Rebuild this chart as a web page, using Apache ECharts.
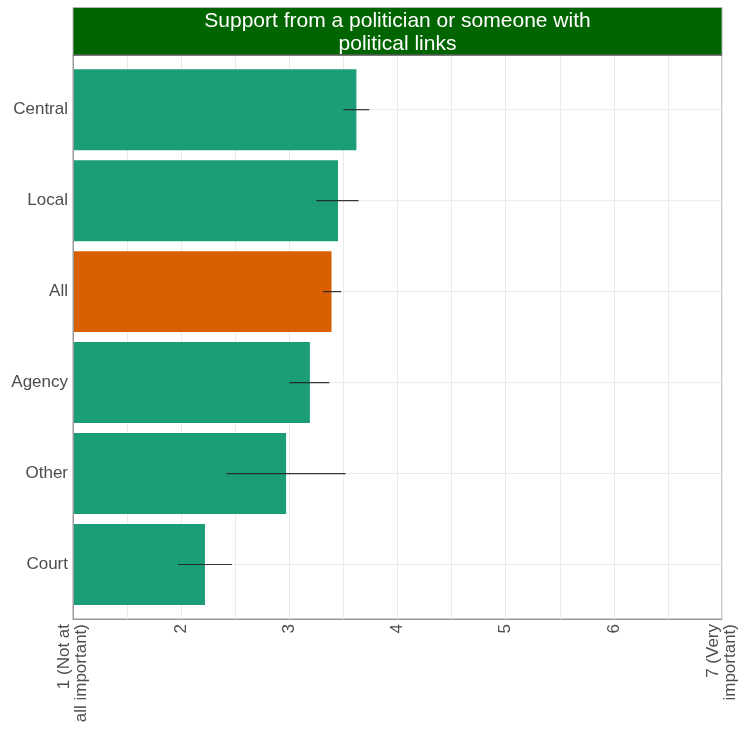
<!DOCTYPE html>
<html>
<head>
<meta charset="utf-8">
<script src="https://cdn.jsdelivr.net/npm/echarts@6/dist/echarts.min.js"></script>
<style>html,body{margin:0;padding:0;background:#fff}#c{width:746px;height:729px}</style>
</head>
<body>
<div id="c"></div>
<script>
const titleText = 'Support from a politician or someone with\npolitical links';
const categories = ['Central', 'Local', 'All', 'Agency', 'Other', 'Court'];
const means = [3.62, 3.45, 3.39, 3.19, 2.97, 2.22];
const lows  = [3.50, 3.25, 3.31, 3.00, 2.42, 1.97];
const highs = [3.74, 3.64, 3.48, 3.37, 3.52, 2.47];
const highlight = 'All';
const xTickLabels = {1: '1 (Not at\nall important)', 2: '2', 3: '3', 4: '4', 5: '5', 6: '6', 7: '7 (Very\nimportant)'};
const xMin = 1, xMax = 7;

const FONT = "'Liberation Sans', Arial, sans-serif";
const TXT = '#4d4d4d';
const GRID = '#ebebeb';

const chart = echarts.init(document.getElementById('c'), null, {renderer: 'canvas'});

const barData = means.map((v, i) => ({
  value: v,
  itemStyle: {color: categories[i] === highlight ? '#d95f02' : '#1b9e77'}
}));
const errData = categories.map((c, i) => [lows[i], highs[i], i]);
const gridLineData = categories.map((c, i) => [xMin, xMax, i]);

chart.setOption({
  animation: false,
  graphic: [
    {type: 'rect', shape: {x: 73, y: 7.5, width: 649, height: 47.5}, style: {fill: '#006400', stroke: '#b3b3b3', lineWidth: 1}, z: 100},
    {type: 'line', shape: {x1: 73, y1: 55, x2: 722, y2: 55}, style: {stroke: '#333', lineWidth: 1}, z: 101},
    {type: 'text', x: 397.5, y: 33, z: 101,
     style: {text: titleText, fill: '#ffffff', font: '21px ' + FONT, align: 'center', verticalAlign: 'middle', lineHeight: 23}}
  ],
  grid: [
    {left: 73, right: 24, top: 55, bottom: 110, show: true, borderColor: '#999', borderWidth: 1, containLabel: false},
    {left: 73, right: 24, top: 64.2, bottom: 119, containLabel: false}
  ],
  xAxis: [
    {type: 'value', gridIndex: 0, min: xMin, max: xMax, interval: 0.5,
     axisLine: {show: true, lineStyle: {color: '#999'}}, axisTick: {show: false},
     splitLine: {show: true, lineStyle: {color: GRID, width: 1}},
     axisLabel: {rotate: 90, margin: 5, color: TXT, fontSize: 17, fontFamily: FONT, lineHeight: 17,
       formatter: v => (Number.isInteger(v) ? (xTickLabels[v] || '') : '')}},
    {type: 'value', gridIndex: 1, min: xMin, max: xMax, show: false}
  ],
  yAxis: [
    {type: 'value', gridIndex: 0, min: 0, max: 1, show: true, z: 10,
     axisLine: {show: true, lineStyle: {color: '#999'}}, axisTick: {show: false},
     axisLabel: {show: false}, splitLine: {show: false}},
    {type: 'category', gridIndex: 1, data: categories, inverse: true,
     axisLine: {show: false}, axisTick: {show: false}, splitLine: {show: false},
     axisLabel: {color: TXT, fontSize: 17, fontFamily: FONT, margin: 5}}
  ],
  series: [
    {type: 'custom', xAxisIndex: 1, yAxisIndex: 1, z: 1, silent: true,
     data: gridLineData, encode: {x: [0, 1], y: 2},
     renderItem: (params, api) => {
       const a = api.coord([api.value(0), api.value(2)]);
       const b = api.coord([api.value(1), api.value(2)]);
       return {type: 'line', shape: {x1: a[0], y1: a[1], x2: b[0], y2: b[1]}, style: {stroke: GRID, lineWidth: 1}};
     }},
    {type: 'bar', xAxisIndex: 1, yAxisIndex: 1, z: 2, barWidth: '89%', data: barData},
    {type: 'custom', xAxisIndex: 1, yAxisIndex: 1, z: 3, silent: true,
     data: errData, encode: {x: [0, 1], y: 2},
     renderItem: (params, api) => {
       const a = api.coord([api.value(0), api.value(2)]);
       const b = api.coord([api.value(1), api.value(2)]);
       return {type: 'line', shape: {x1: a[0], y1: a[1], x2: b[0], y2: b[1]}, style: {stroke: '#222', lineWidth: 1.2, opacity: 0.9}};
     }}
  ]
});
</script>
</body>
</html>
